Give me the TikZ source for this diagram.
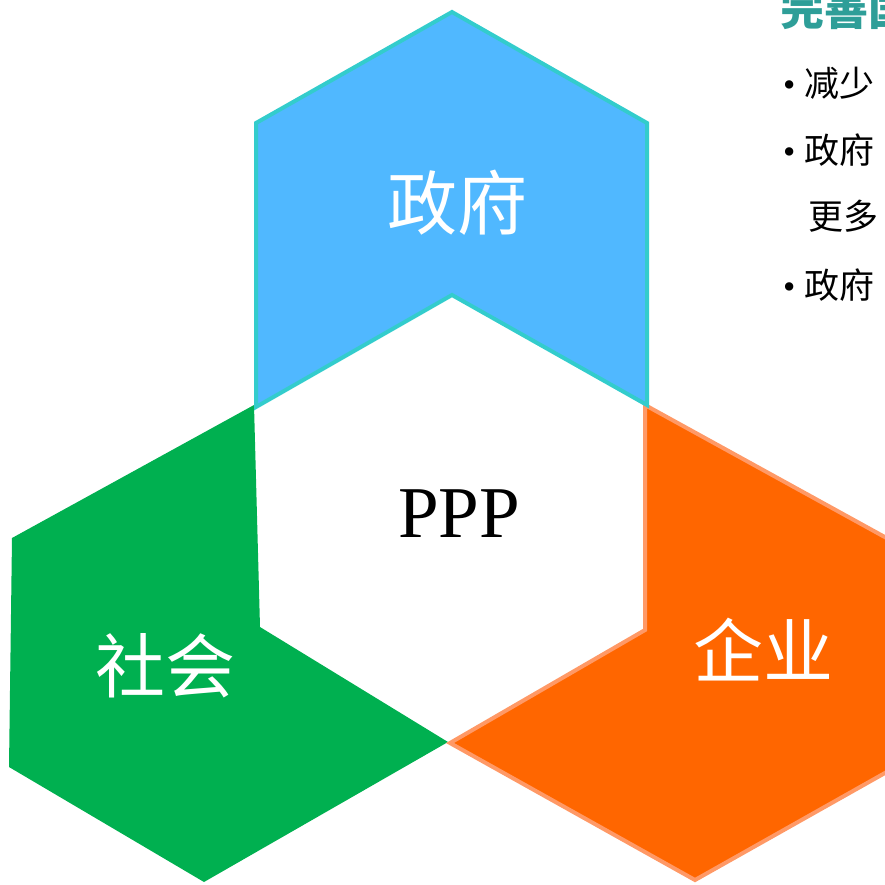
\documentclass[tikz,border=0pt]{standalone}
\usepackage{fontspec}
\setmainfont{Liberation Serif}
\newfontfamily\cjk{Noto Sans CJK SC}
\definecolor{govblue}{HTML}{50B8FF}
\definecolor{govline}{HTML}{33CCCC}
\definecolor{socgreen}{HTML}{00B050}
\definecolor{entorange}{HTML}{FF6600}
\definecolor{entline}{HTML}{FF9966}
\definecolor{titleteal}{HTML}{2E9E98}
\tikzset{
  hexlabel/.style={text=white, inner sep=0pt, font=\cjk\fontsize{70}{70}\selectfont},
  bulletline/.style={anchor=base west, inner sep=0pt, font=\cjk\fontsize{35}{35}\selectfont},
}
\begin{document}
\begin{tikzpicture}[x=1pt,y=-1pt]
\useasboundingbox (0,0) rectangle (885,884);
\clip (0,0) rectangle (885,884);
% society (green)
\fill[socgreen] (254,405) -- (260,627) -- (448,742) -- (204,882) -- (9,767) -- (12,538) -- cycle;
% enterprise (orange)
\filldraw[fill=entorange, draw=entline, line width=4pt, line join=miter]
  (645,405) -- (645,630) -- (450,743) -- (695,880) -- (892,769) -- (892,541) -- cycle;
% government (blue)
\filldraw[fill=govblue, draw=govline, line width=4pt, line join=miter]
  (452,12) -- (647,123) -- (647,405) -- (452,295) -- (256,407) -- (256,123) -- cycle;
% labels
\node[hexlabel] (gov) at (457,203) {政府};
\node[hexlabel] (soc) at (165,666) {社会};
\node[hexlabel] (ent) at (763,650) {企业};
\node[inner sep=0pt, font=\fontsize{73}{73}\selectfont] (ppp) at (459,514) {PPP};
% right-hand text
\node[anchor=base west, inner sep=0pt, text=titleteal, font=\cjk\bfseries\fontsize{44}{44}\selectfont] (title) at (780,25) {完善国};
\node[bulletline] (b1) at (783,96) {{\rmfamily •}\hspace{9pt}减少};
\node[bulletline] (b2) at (783,163) {{\rmfamily •}\hspace{9pt}政府};
\node[bulletline] (b2c) at (808,229) {更多};
\node[bulletline] (b3) at (783,298) {{\rmfamily •}\hspace{9pt}政府};
\end{tikzpicture}
\end{document}
